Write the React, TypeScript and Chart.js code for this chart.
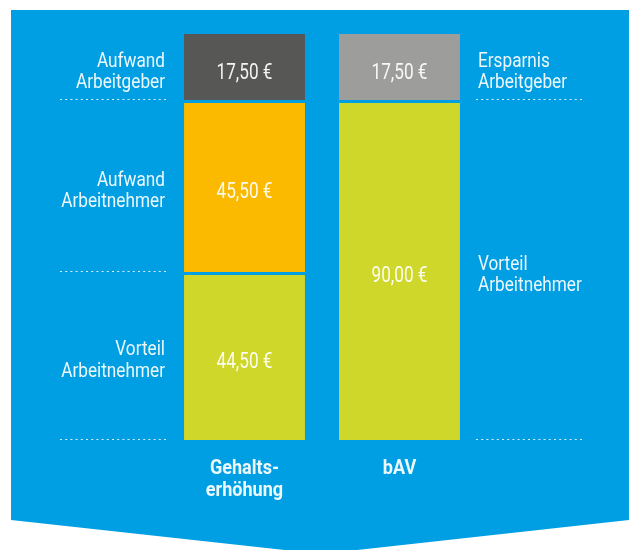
import React, { useEffect, useRef } from "react";
import { Chart, registerables } from "chart.js";

Chart.register(...registerables);

const categories = [["Gehalts-", "erhöhung"], ["bAV"]];
const seriesNames = ["Vorteil Arbeitnehmer", "Aufwand Arbeitnehmer", "Aufwand Arbeitgeber", "Ersparnis Arbeitgeber"];
const vorteilArbeitnehmer = [44.5, 90.0];
const aufwandArbeitnehmer = [45.5, null];
const aufwandArbeitgeber = [17.5, null];
const ersparnisArbeitgeber = [null, 17.5];

const BLUE = "#009FE3";
const TEXT = "rgba(255,255,255,0.93)";
const FONT = "Roboto, 'Liberation Sans', sans-serif";

const fmt = (v: number) => v.toFixed(2).replace(".", ",") + " €";

function narrowText(ctx: any, text: string, x: number, y: number, font: string, sx: number, align: string) {
  ctx.save();
  ctx.font = font;
  ctx.textAlign = align;
  ctx.textBaseline = "alphabetic";
  ctx.translate(x, y);
  ctx.scale(sx, 1);
  ctx.fillText(text, 0, 0);
  ctx.restore();
}

const backgroundPlugin = {
  id: "bgShape",
  beforeDraw(chart: any) {
    const { ctx, width } = chart;
    ctx.save();
    ctx.fillStyle = BLUE;
    ctx.beginPath();
    ctx.moveTo(11, 10);
    ctx.lineTo(width, 10);
    ctx.lineTo(width, 520);
    ctx.lineTo(321, 554);
    ctx.lineTo(11, 520);
    ctx.closePath();
    ctx.fill();
    ctx.restore();
  },
};

const labelPlugin = {
  id: "sideLabels",
  afterDatasetsDraw(chart: any) {
    const { ctx, chartArea } = chart;
    ctx.save();
    ctx.fillStyle = TEXT;
    chart.data.datasets.forEach((ds: any, di: number) => {
      const meta = chart.getDatasetMeta(di);
      meta.data.forEach((bar: any, i: number) => {
        const v = ds.data[i];
        if (v === null || v === undefined) return;
        const top = Math.min(bar.y, bar.base);
        const bottom = Math.max(bar.y, bar.base);
        const mid = (top + bottom) / 2;
        // value label
        narrowText(ctx, fmt(v), bar.x, mid + 12, `22px ${FONT}`, 0.78, "center");
        // side label
        const lines = ds.label.split(" ");
        const left = i === 0;
        const tx = left ? chartArea.left - 2 : chartArea.right + 1;
        lines.forEach((ln: string, k: number) =>
          narrowText(ctx, ln, tx, mid - 0.5 + k * 21.5, `20px ${FONT}`, 0.86, left ? "right" : "left")
        );
        // dotted line at segment bottom
        const ly = Math.round(bottom) - 0.5;
        const x1 = left ? chartArea.left - 107 : chartArea.right - 1;
        const x2 = left ? chartArea.left : chartArea.right + 106;
        ctx.strokeStyle = "rgba(255,255,255,0.85)";
        ctx.lineWidth = 1;
        ctx.setLineDash([2, 3.2]);
        ctx.beginPath();
        ctx.moveTo(x1, ly);
        ctx.lineTo(x2, ly);
        ctx.stroke();
        ctx.setLineDash([]);
      });
    });
    // category labels
    const xs = chart.scales.x;
    chart.data.labels.forEach((lab: any, i: number) => {
      const x = xs.getPixelForValue(i);
      const lines = Array.isArray(lab) ? lab : [lab];
      lines.forEach((ln: string, k: number) =>
        narrowText(ctx, ln, x, chartArea.bottom + 33.5 + k * 22, `bold 21px ${FONT}`, 0.86, "center")
      );
    });
    ctx.restore();
  },
};

export default function App() {
  const ref = useRef<HTMLCanvasElement>(null);
  useEffect(() => {
    if (!ref.current) return;
    const gap = { top: 3, right: 0, bottom: 0, left: 0 };
    const chart = new Chart(ref.current, {
      type: "bar",
      data: {
        labels: categories as any,
        datasets: [
          { label: seriesNames[0], data: vorteilArbeitnehmer, backgroundColor: "#CFD72B", borderColor: BLUE, borderWidth: gap, borderSkipped: false },
          { label: seriesNames[1], data: aufwandArbeitnehmer, backgroundColor: "#FBBA00", borderColor: BLUE, borderWidth: gap, borderSkipped: false },
          { label: seriesNames[2], data: aufwandArbeitgeber, backgroundColor: "#575756", borderWidth: 0 },
          { label: seriesNames[3], data: ersparnisArbeitgeber, backgroundColor: "#9D9D9C", borderWidth: 0 },
        ] as any,
      },
      options: {
        animation: false,
        responsive: false,
        maintainAspectRatio: false,
        layout: { padding: { left: 167, right: 152, top: 34, bottom: 110 } },
        plugins: { legend: { display: false }, tooltip: { enabled: false } },
        datasets: { bar: { categoryPercentage: 1, barPercentage: 0.78 } },
        scales: {
          x: { stacked: true, display: false },
          y: { stacked: true, display: false, min: 0, max: 107.5 },
        },
      } as any,
      plugins: [backgroundPlugin, labelPlugin],
    });
    return () => chart.destroy();
  }, []);
  return (
    <div style={{ position: "fixed", left: 0, top: 0, width: 629, height: 550 }}>
      <canvas ref={ref} width={629} height={550} style={{ display: "block" }} />
    </div>
  );
}
